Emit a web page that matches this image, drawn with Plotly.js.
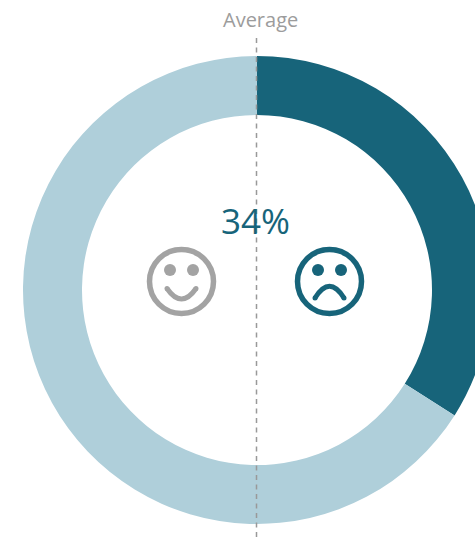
<!DOCTYPE html>
<html>
<head>
<meta charset="utf-8">
<script src="https://cdn.plot.ly/plotly-3.0.1.min.js"></script>
<style>
html,body{margin:0;padding:0;width:475px;height:537px;overflow:hidden;background:#fff}
#wrap{width:475px;height:537px;overflow:hidden;position:relative}
#chart{width:514px;height:537px;position:absolute;left:0;top:0}
</style>
</head>
<body>
<div id="wrap"><div id="chart"></div></div>
<script>
var categories = ['Below average', 'Above average'];
var values = [34, 66];
var ringColors = ['#17647a', '#afcfda'];
var centerLabel = '34%';
var lineLabel = 'Average';

var W = 514, H = 537;
function px(x){ return x / W; }
function py(y){ return 1 - y / H; }
function ring(cx, cy, r, col, w){
  return {type:'circle', xref:'paper', yref:'paper', x0:px(cx-r), x1:px(cx+r), y0:py(cy+r), y1:py(cy-r),
    line:{color:col, width:w}, fillcolor:'rgba(0,0,0,0)'};
}
function dot(cx, cy, r, col){
  return {type:'circle', xref:'paper', yref:'paper', x0:px(cx-r), x1:px(cx+r), y0:py(cy+r), y1:py(cy-r),
    line:{width:0}, fillcolor:col};
}
function curve(x0, y0, xc, yc, x1, y1, col, w){
  return {type:'path', xref:'paper', yref:'paper',
    path:'M '+px(x0)+' '+py(y0)+' Q '+px(xc)+' '+py(yc)+' '+px(x1)+' '+py(y1),
    line:{color:col, width:w}, fillcolor:'rgba(0,0,0,0)'};
}
function face(cx, cy, col, mouthEnd, mouthCtrl){
  return [
    ring(cx, cy, 32, col, 5.5),
    dot(cx-11.5, cy-11.5, 6, col),
    dot(cx+11.5, cy-11.5, 6, col),
    curve(cx-14.5, cy+mouthEnd, cx, cy+mouthCtrl, cx+14.5, cy+mouthEnd, col, 5),
    dot(cx-14.5, cy+mouthEnd, 2.5, col),
    dot(cx+14.5, cy+mouthEnd, 2.5, col)
  ];
}
var shapes = [{type:'line', xref:'paper', yref:'paper', x0:px(256.5), x1:px(256.5), y0:py(38), y1:py(537),
  line:{color:'#999999', width:1.5, dash:'5px,4.5px'}}];
shapes = shapes.concat(face(181.5, 281.5, '#a3a3a3', 7, 28));
shapes = shapes.concat(face(329.5, 281.5, '#17647a', 16.5, -7));

Plotly.newPlot('chart', [{
  type:'pie', labels:categories, values:values, sort:false, direction:'clockwise', rotation:0,
  hole:175/234, textinfo:'none', hoverinfo:'none', marker:{colors:ringColors, line:{width:0}},
  domain:{x:[px(23), px(491)], y:[py(524), py(56)]}
}], {
  width:W, height:H, margin:{l:0,r:0,t:0,b:0}, showlegend:false,
  paper_bgcolor:'#fff', font:{family:'"Open Sans", sans-serif'},
  shapes:shapes,
  annotations:[
    {text:lineLabel, xref:'paper', yref:'paper', x:px(260), y:py(19), xanchor:'center', yanchor:'middle', showarrow:false,
     font:{family:'"Open Sans", sans-serif', size:20, color:'#9c9c9c'}},
    {text:centerLabel, xref:'paper', yref:'paper', x:px(255.5), y:py(221), xanchor:'center', yanchor:'middle', showarrow:false,
     font:{family:'"Open Sans", sans-serif', size:35, color:'#17647a'}}
  ]
}, {displayModeBar:false, staticPlot:true});
</script>
</body>
</html>
